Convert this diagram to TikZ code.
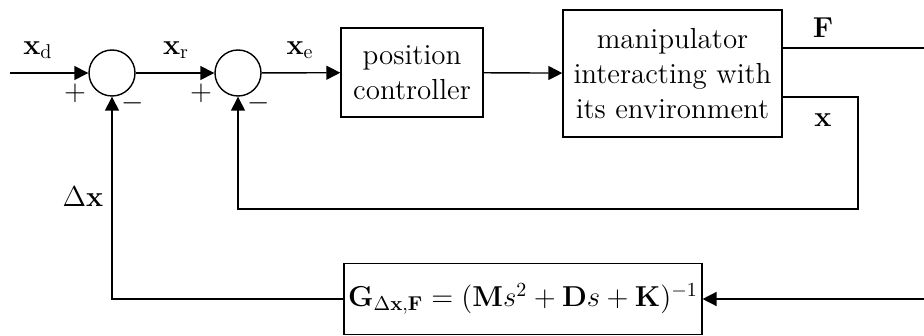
\documentclass[tikz,border=0pt]{standalone}
\usepackage{tikz}
\usetikzlibrary{arrows.meta, positioning, calc}

\begin{document}
\begin{tikzpicture}[
  x=0.5pt, y=-0.5pt,
  font=\fontsize{14.5}{17.5}\selectfont,
  sumnode/.style={draw, circle, minimum size=23pt, inner sep=0pt, line width=0.7pt},
  block/.style={draw, rectangle, align=center, inner sep=2pt, line width=0.7pt},
  sig/.style={line width=0.7pt, -{Triangle[length=7pt, width=7pt]}},
  wire/.style={line width=0.7pt},
  lbl/.style={inner sep=0pt}
]
  \useasboundingbox (0,0) rectangle (924,336);

  % Summing junctions
  \coordinate (in) at (10,73);
  \node[sumnode] (sum1) at (112,73) {};
  \node[sumnode] (sum2) at (238,73) {};

  % Blocks
  \node[block, minimum width=71pt, minimum height=44.5pt] (ctrl) at (412,72.5) {position\\controller};
  \node[block, minimum width=109.5pt, minimum height=63.5pt] (manip) at (672.5,73.5) {manipulator\\interacting with\\its environment};
  \node[block, minimum width=170pt, minimum height=35.5pt] (gfb) at (523,299)
    {$\mathbf{G}_{\Delta\mathbf{x},\mathbf{F}} = (\mathbf{M}s^2 + \mathbf{D}s + \mathbf{K})^{-1}$};

  % Outputs
  \coordinate (fout) at (924,48);
  \coordinate (fret) at (924,299);
  \coordinate (xcorner) at (858,97);
  \coordinate (xback) at (858,209);

  % Forward path
  \draw[sig] (in) -- (sum1);
  \draw[sig] (sum1) -- (sum2);
  \draw[sig] (sum2) -- (ctrl);
  \draw[sig] (ctrl) -- (manip);
  \draw[wire] (manip.east |- fout) -- (fout);

  % Inner loop
  \draw[sig] (manip.east |- xcorner) -- (xcorner) -- (xback) -| (sum2.south);

  % Outer loop
  \draw[sig] (fret) -- (gfb.east);
  \draw[sig] (gfb.west) -| (sum1.south);

  % Labels
  \node[lbl] (lxd) at (38,50) {$\mathbf{x}_\mathrm{d}$};
  \node[lbl] (lxr) at (176,50) {$\mathbf{x}_\mathrm{r}$};
  \node[lbl] (lxe) at (300,50) {$\mathbf{x}_\mathrm{e}$};
  \node[lbl] (lF) at (823,28) {$\mathbf{F}$};
  \node[lbl] (lx) at (823,120) {$\mathbf{x}$};
  \node[lbl] (ldx) at (83,197) {$\Delta\mathbf{x}$};
  \node[lbl] (p1) at (75,93) {$+$};
  \node[lbl] (m1) at (133,103) {$-$};
  \node[lbl] (p2) at (201,93) {$+$};
  \node[lbl] (m2) at (259,103) {$-$};
\end{tikzpicture}
\end{document}
